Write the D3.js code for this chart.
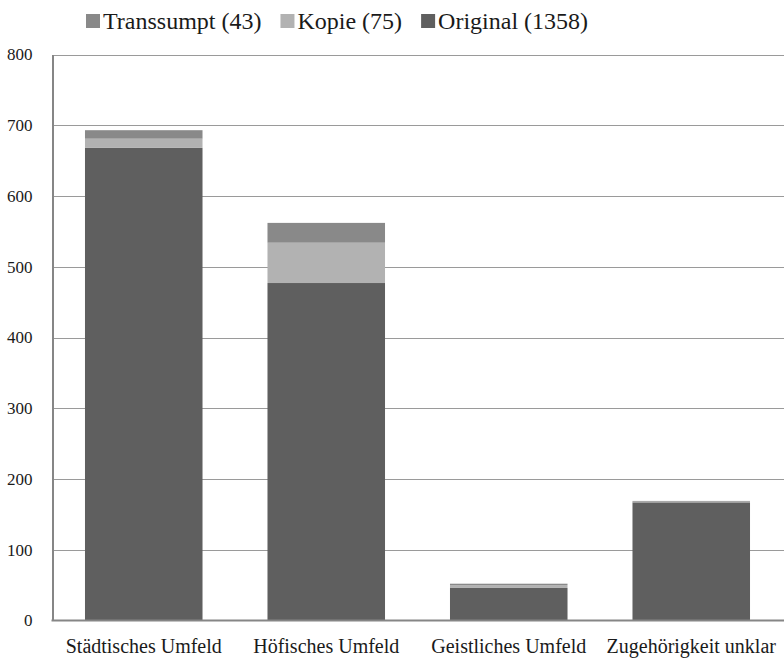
<!DOCTYPE html>
<html>
<head>
<meta charset="utf-8">
<script src="https://cdn.jsdelivr.net/npm/d3@7"></script>
<style>
  body { margin: 0; background: #fff; }
  text { font-family: "Liberation Serif", "Times New Roman", serif; fill: #1a1a1a; }
</style>
</head>
<body>
<svg id="chart" width="784" height="660"></svg>
<script>
    // categories and stacked values
    var categories = ["Städtisches Umfeld", "Höfisches Umfeld", "Geistliches Umfeld", "Zugehörigkeit unklar"];
    var original   = [668, 477, 46, 167];
    var kopie      = [13, 57, 4, 1];
    var transsumpt = [12, 28, 2, 1];
    var yTicks = [0, 100, 200, 300, 400, 500, 600, 700, 800];

    var seriesKeys = ["original", "kopie", "transsumpt"];
    var colors = {original: "#5f5f5f", kopie: "#b2b2b2", transsumpt: "#898989"};
    var legendItems = [
        {key: "transsumpt", label: "Transsumpt (43)"},
        {key: "kopie", label: "Kopie (75)"},
        {key: "original", label: "Original (1358)"}
    ];

    var rows = categories.map(function(c, i){
        return {cat: c, original: original[i], kopie: kopie[i], transsumpt: transsumpt[i]};
    });

    var svg = d3.select("#chart");
    var plotLeft = 52.5, plotRight = 782.5, plotTop = 54.5, plotBottom = 620.5;

    var x = d3.scaleBand()
        .domain(categories)
        .range([plotLeft, plotRight])
        .paddingInner(0.356)
        .paddingOuter(0.178);

    var y = d3.scaleLinear().domain([0, 800]).range([plotBottom, plotTop]);

    // gridlines
    svg.append("g")
        .selectAll("line")
        .data(yTicks.filter(function(d){ return d > 0; }))
        .enter().append("line")
        .attr("x1", plotLeft).attr("x2", 784)
        .attr("y1", function(d){ return Math.round(y(d)) + 0.5; })
        .attr("y2", function(d){ return Math.round(y(d)) + 0.5; })
        .attr("stroke", "#9a9a9a")
        .attr("stroke-width", 1);

    // stacked bars
    var stacked = d3.stack().keys(seriesKeys)(rows);
    svg.append("g")
        .selectAll("g")
        .data(stacked)
        .enter().append("g")
        .attr("fill", function(d){ return colors[d.key]; })
        .selectAll("rect")
        .data(function(d){ return d; })
        .enter().append("rect")
        .attr("x", function(d){ return x(d.data.cat); })
        .attr("width", x.bandwidth())
        .attr("y", function(d){ return y(d[1]); })
        .attr("height", function(d){ return y(d[0]) - y(d[1]); });

    // y axis, no tick marks
    var yAxis = svg.append("g")
        .attr("transform", "translate(" + plotLeft + ",0)")
        .call(d3.axisLeft(y).tickValues(yTicks).tickSize(0).tickPadding(20).tickFormat(d3.format("d")));
    yAxis.select(".domain").attr("stroke", "#868686").attr("stroke-width", 2);
    yAxis.selectAll(".tick text")
        .style("font-family", "Liberation Serif, serif")
        .style("font-size", "17px")
        .attr("fill", "#1a1a1a");

    // x axis
    svg.append("line")
        .attr("x1", plotLeft - 1).attr("x2", 784)
        .attr("y1", plotBottom).attr("y2", plotBottom)
        .attr("stroke", "#868686").attr("stroke-width", 2);

    svg.append("g")
        .selectAll("text")
        .data(categories)
        .enter().append("text")
        .attr("x", function(d){ return x(d) + x.bandwidth() / 2; })
        .attr("y", 653)
        .attr("text-anchor", "middle")
        .style("font-size", "20px")
        .text(function(d){ return d; });

    // legend
    var legend = svg.append("g").attr("transform", "translate(86,14)");
    var lx = 0;
    legendItems.forEach(function(item){
        var g = legend.append("g").attr("transform", "translate(" + lx + ",0)");
        g.append("rect")
            .attr("x", 0).attr("y", 0)
            .attr("width", 14).attr("height", 14)
            .attr("fill", colors[item.key]);
        var t = g.append("text")
            .attr("x", 17).attr("y", 15)
            .style("font-size", "24px")
            .text(item.label);
        lx += 17 + t.node().getComputedTextLength() + 19;
    });
</script>
</body>
</html>
